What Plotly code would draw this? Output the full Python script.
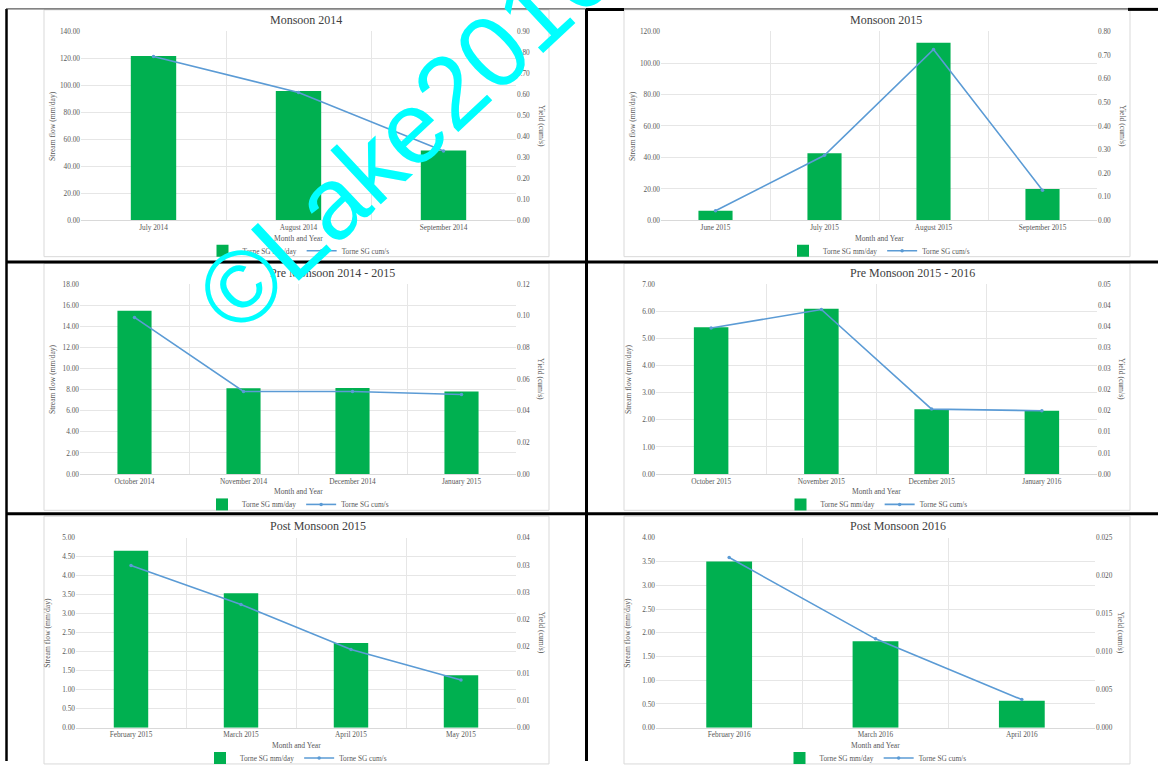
import plotly.graph_objects as go
from decimal import Decimal, ROUND_HALF_UP

W, H = 1158, 773

# ---- data: Torne stream gauge, stream flow (mm/day) and yield (cum/s) ----
monsoon14_months = ["July 2014", "August 2014", "September 2014"]
monsoon14_flow = [121.8, 96.0, 51.9]
monsoon14_yield = [0.781, 0.610, 0.331]

monsoon15_months = ["June 2015", "July 2015", "August 2015", "September 2015"]
monsoon15_flow = [6.2, 42.6, 112.8, 19.9]
monsoon15_yield = [0.041, 0.276, 0.724, 0.128]

pre1415_months = ["October 2014", "November 2014", "December 2014", "January 2015"]
pre1415_flow = [15.47, 8.13, 8.17, 7.83]
pre1415_yield = [0.099, 0.0522, 0.0522, 0.0503]

pre1516_months = ["October 2015", "November 2015", "December 2015", "January 2016"]
pre1516_flow = [5.41, 6.09, 2.39, 2.33]
pre1516_yield = [0.0346, 0.0390, 0.0154, 0.0150]

post15_months = ["February 2015", "March 2015", "April 2015", "May 2015"]
post15_flow = [4.66, 3.54, 2.23, 1.38]
post15_yield = [0.0299, 0.0227, 0.0144, 0.0088]

post16_months = ["February 2016", "March 2016", "April 2016"]
post16_flow = [3.50, 1.82, 0.57]
post16_yield = [0.0224, 0.0117, 0.0037]

chart_titles = ["Monsoon 2014", "Monsoon 2015", "Pre Monsoon 2014 - 2015",
                "Pre Monsoon 2015 - 2016", "Post Monsoon 2015", "Post Monsoon 2016"]
bar_name = "Torne SG mm/day"
line_name = "Torne SG cum/s"
x_title = "Month and Year"
y_title = "Stream flow (mm/day)"
y2_title = "Yield (cum/s)"
watermark = "\u00a9Lake2016"

GREEN = "#00B050"
BLUE = "#5B9BD5"
GRID = "#E6E6E6"
TICK = "#595959"
TEXT = "#404040"
SERIF = "Liberation Serif"


def px_x(v):
    return v / W


def px_y(v):
    return 1 - v / H


def ticks(top, step, decimals):
    n = int(round(top / step))
    vals = [round(k * step, 6) for k in range(n + 1)]
    q = Decimal(1).scaleb(-decimals)
    text = [str(Decimal(str(v)).quantize(q, rounding=ROUND_HALF_UP)) for v in vals]
    return vals, text


# per chart: data, axis scaling and panel geometry (pixels)
charts = [
    dict(months=monsoon14_months, flow=monsoon14_flow, yld=monsoon14_yield,
         fmax=140, fstep=20, ymax=0.9, ystep=0.1, ydec=2,
         plot=(81, 516, 28, 221), box=(44, 549, 6, 258), left=268, ty=16),
    dict(months=monsoon15_months, flow=monsoon15_flow, yld=monsoon15_yield,
         fmax=120, fstep=20, ymax=0.8, ystep=0.1, ydec=2,
         plot=(661, 1097, 28, 221), box=(624, 1130, 6, 258), left=848, ty=16),
    dict(months=pre1415_months, flow=pre1415_flow, yld=pre1415_yield,
         fmax=18, fstep=2, ymax=0.12, ystep=0.02, ydec=2,
         plot=(80, 516, 286, 480), box=(44, 549, 265, 517), left=268, ty=275),
    dict(months=pre1516_months, flow=pre1516_flow, yld=pre1516_yield,
         fmax=7, fstep=1, ymax=0.045, ystep=0.005, ydec=2,
         plot=(656, 1097, 286, 480), box=(624, 1130, 265, 517), left=848, ty=275),
    dict(months=post15_months, flow=post15_flow, yld=post15_yield,
         fmax=5, fstep=0.5, ymax=0.035, ystep=0.005, ydec=2,
         plot=(76, 516, 545, 739), box=(44, 549, 523, 776), left=268, ty=533),
    dict(months=post16_months, flow=post16_flow, yld=post16_yield,
         fmax=4, fstep=0.5, ymax=0.025, ystep=0.005, ydec=3,
         plot=(656, 1095, 545, 739), box=(624, 1130, 523, 776), left=848, ty=533),
]

fig = go.Figure()
layout = dict(
    width=W, height=H, autosize=False,
    margin=dict(l=0, r=0, t=0, b=0),
    paper_bgcolor="white", plot_bgcolor="white",
    showlegend=True,
)
shapes = []
annotations = []

for i, c in enumerate(charts, start=1):
    title = chart_titles[i - 1]
    xa = "x" if i == 1 else f"x{i}"
    ya = "y" if i == 1 else f"y{2 * i - 1}"
    ya2 = f"y{2 * i}"
    leg = "legend" if i == 1 else f"legend{i}"

    fig.add_trace(go.Bar(
        x=c["months"], y=c["flow"], xaxis=xa, yaxis=ya, name=bar_name,
        marker=dict(color=GREEN, line=dict(width=0)), width=0.313, legend=leg,
    ))
    fig.add_trace(go.Scatter(
        x=c["months"], y=c["yld"], xaxis=xa, yaxis=ya2, name=line_name,
        mode="lines+markers", line=dict(color=BLUE, width=1.6),
        marker=dict(color=BLUE, size=3.5), legend=leg,
    ))

    x0, x1, y0, y1 = c["plot"]
    fvals, ftext = ticks(c["fmax"], c["fstep"], 2)
    yvals, ytext = ticks(c["ymax"], c["ystep"], c["ydec"])
    tickfont = dict(family=SERIF, size=7.3, color=TICK)

    layout["xaxis" if i == 1 else f"xaxis{i}"] = dict(
        domain=[px_x(x0), px_x(x1)], anchor=ya, type="category",
        tickson="boundaries", showgrid=True, gridcolor=GRID, gridwidth=1,
        showline=True, linecolor="#D9D9D9", linewidth=1, ticks="",
        tickfont=tickfont, fixedrange=True,
    )
    layout["yaxis" if i == 1 else f"yaxis{2 * i - 1}"] = dict(
        domain=[px_y(y1), px_y(y0)], anchor=xa,
        range=[0, c["fmax"] * 1.0005], tickvals=fvals, ticktext=ftext,
        showgrid=True, gridcolor=GRID, gridwidth=1, zeroline=False,
        showline=False, ticks="", tickfont=tickfont,
    )
    layout[f"yaxis{2 * i}"] = dict(
        overlaying=ya, side="right", anchor=xa,
        range=[0, c["ymax"] * 1.0005], tickvals=yvals, ticktext=ytext,
        showgrid=False, zeroline=False, showline=False, ticks="",
        tickfont=tickfont,
    )

    cx = (x0 + x1) / 2
    cy = (y0 + y1) / 2
    layout[leg] = dict(
        orientation="h", x=px_x(cx), xanchor="center",
        y=px_y(y1 + 31), yanchor="middle",
        font=dict(family=SERIF, size=7.3, color=TICK),
        bgcolor="rgba(0,0,0,0)", itemwidth=30, tracegroupgap=0,
    )

    bx0, bx1, by0, by1 = c["box"]
    shapes.append(dict(type="rect", xref="paper", yref="paper",
                       x0=px_x(bx0), x1=px_x(bx1), y0=px_y(by1), y1=px_y(by0),
                       line=dict(color="#D9D9D9", width=1), layer="below"))

    annotations += [
        dict(text=title, x=px_x(c["left"]), y=px_y(c["ty"]), xref="paper", yref="paper",
             xanchor="left", yanchor="middle", showarrow=False,
             font=dict(family=SERIF, size=12, color=TEXT)),
        dict(text=x_title, x=px_x(cx), y=px_y(y1 + 18), xref="paper", yref="paper",
             xanchor="center", yanchor="middle", showarrow=False,
             font=dict(family=SERIF, size=7.6, color=TICK)),
        dict(text=y_title, x=px_x(x0 - 28), y=px_y(cy), xref="paper", yref="paper",
             xanchor="center", yanchor="middle", showarrow=False, textangle=-90,
             font=dict(family=SERIF, size=7.6, color=TICK)),
        dict(text=y2_title, x=px_x(x1 + 25), y=px_y(cy), xref="paper", yref="paper",
             xanchor="center", yanchor="middle", showarrow=False, textangle=90,
             font=dict(family=SERIF, size=7.6, color=TICK)),
    ]

# table rules around the six panels
def rule(xa0, ya0, xa1, ya1, width, color="black"):
    return dict(type="line", xref="paper", yref="paper",
                x0=px_x(xa0), y0=px_y(ya0), x1=px_x(xa1), y1=px_y(ya1),
                line=dict(color=color, width=width), layer="above")

shapes += [
    rule(6.5, 5, 6.5, H, 2.5),
    rule(586.5, 5, 586.5, H, 3),
    rule(6, 263.5, W, 263.5, 3),
    rule(6, 520.5, W, 520.5, 3),
    rule(6, 5, 586, 5, 1, "#333333"),
    rule(586, 5.5, 624, 5.5, 3),
    rule(624, 5, 1128, 5, 1, "#333333"),
    rule(1128, 5.5, W, 5.5, 3),
]

annotations.append(dict(
    text=watermark, x=px_x(405), y=px_y(133), xref="paper", yref="paper",
    xanchor="center", yanchor="middle", showarrow=False, textangle=-43,
    font=dict(family="Liberation Sans", size=102, color="#00FFFF"),
))

layout["shapes"] = shapes
layout["annotations"] = annotations
fig.update_layout(**layout)

fig.write_html("out.html")
